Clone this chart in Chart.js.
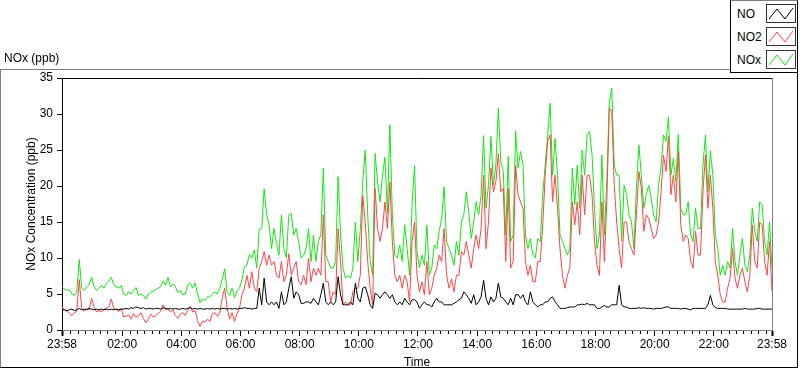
<!DOCTYPE html>
<html><head><meta charset="utf-8">
<script src="https://cdn.jsdelivr.net/npm/chart.js@4.4.1/dist/chart.umd.min.js"></script>
<style>
html,body{margin:0;padding:0;background:#fff;}
#wrap{position:relative;width:800px;height:369px;overflow:hidden;font-family:"Liberation Sans",Arial,sans-serif;font-size:12px;color:#000;}
#frame{position:absolute;left:0;top:69px;width:798px;height:299px;box-sizing:border-box;border-left:1px solid #808080;border-top:1px solid #808080;border-right:1px solid #000;border-bottom:1px solid #000;}
#c{position:absolute;left:0;top:0;}
#ttl{position:absolute;left:4px;top:51px;line-height:14px;}
#legend{position:absolute;left:730px;top:0;width:68px;height:73px;box-sizing:border-box;border:1px solid #000;border-top-color:#808080;background:#fff;}
.lt{position:absolute;left:6px;line-height:14px;}
.sw{position:absolute;left:35px;width:30px;height:19px;box-sizing:border-box;border:1px solid #333;background:#fff;}
.sw svg{position:absolute;left:0;top:0;}
</style></head><body>
<div id="wrap">
  <div id="frame"></div>
  <canvas id="c" width="800" height="369"></canvas>
  <div id="ttl">NOx (ppb)</div>
  <div id="legend">
    <div class="lt" style="top:6px">NO</div>
    <div class="sw" style="top:3px"><svg width="28" height="17"><polyline points="2,14 10,4 18,14 26,3" fill="none" stroke="#000" stroke-width="1"/></svg></div>
    <div class="lt" style="top:29px">NO2</div>
    <div class="sw" style="top:26px"><svg width="28" height="17"><polyline points="2,14 10,4 18,14 26,3" fill="none" stroke="#ff4444" stroke-width="1"/></svg></div>
    <div class="lt" style="top:52px">NOx</div>
    <div class="sw" style="top:49px"><svg width="28" height="17"><polyline points="2,14 10,4 18,14 26,3" fill="none" stroke="#14e614" stroke-width="1"/></svg></div>
  </div>
</div>
<script>
// Time axis: minutes elapsed since 23:58, sampled every 5 minutes over 24 h
const START_CLOCK = 23 * 60 + 58;
const SPAN = 1440;
const times = Array.from({length: 289}, (_, i) => i * 5);

const noValues = [
2.8,2.8,2.7,2.8,2.9,2.7,2.8,3.0,2.8,2.9,
2.8,3.0,2.9,2.8,2.9,2.8,2.9,2.8,2.9,2.8,
2.9,2.8,2.9,2.8,2.9,2.9,3.0,2.9,3.1,3.0,
3.2,3.1,3.0,3.1,2.9,3.0,3.0,2.9,3.0,3.0,
2.9,3.1,3.0,2.9,3.0,2.9,3.0,2.9,2.9,3.0,
2.9,3.0,3.1,2.9,3.0,2.9,3.0,2.9,2.9,3.0,
2.9,3.0,2.9,3.0,2.9,3.0,3.0,2.9,3.0,2.9,
3.0,2.9,3.0,
3.0,3.1,3.0,3.0,2.9,3.0,3.0,5.8,3.5,7.2,
3.9,3.5,3.9,3.5,3.9,3.0,5.3,3.5,3.9,5.8,
7.4,4.4,5.3,4.9,3.7,3.7,3.9,3.9,3.7,4.4,
3.9,3.5,4.9,6.5,3.9,3.5,3.9,3.5,3.9,7.4,
4.9,3.5,3.5,3.5,3.9,3.5,6.5,4.4,3.9,5.8,
6.0,4.9,3.5,3.0,5.1,4.9,4.4,4.9,5.3,4.9,
4.4,4.9,3.9,3.5,3.9,3.5,4.4,3.9,3.5,
4.2,4.2,3.9,3.0,3.5,3.9,3.5,3.5,3.2,3.9,
4.4,3.9,3.9,3.5,3.5,3.5,3.5,3.7,3.9,4.2,
4.4,5.3,4.9,4.4,3.7,4.9,3.5,3.9,4.6,6.9,
4.4,3.5,4.6,3.9,4.4,6.5,4.6,4.4,3.9,3.5,
4.4,3.5,4.9,4.9,4.4,4.9,3.9,3.5,5.3,3.9,
3.5,3.2,3.5,3.5,3.9,3.9,4.4,4.6,3.9,3.5,
3.0,3.0,3.0,3.1,3.2,3.2,3.2,3.5,3.5,3.6,
3.5,3.7,
3.5,3.5,3.5,3.0,3.0,3.2,3.4,3.2,3.2,3.5,
3.5,3.5,6.2,3.5,3.2,3.2,3.0,3.0,3.0,3.0,
3.1,3.0,3.1,3.0,3.0,3.0,2.9,3.0,3.0,3.0,
3.1,3.2,3.2,3.0,3.0,3.0,3.0,2.9,3.0,3.0,
2.9,2.8,3.0,3.0,3.0,3.0,3.0,3.0,3.5,4.8,
3.5,3.1,3.0,3.0,3.0,3.0,2.9,2.9,2.9,2.9,
2.9,2.9,2.9,3.0,2.9,2.9,2.9,2.9,3.0,3.0,
2.9,2.9,2.9,2.9,2.9
];

const no2Values = [
3.2,2.8,2.6,2.3,2.0,2.4,2.6,7.0,3.0,2.6,
3.0,2.8,4.4,3.2,2.5,2.7,2.5,2.9,3.0,3.2,
4.3,3.0,2.8,2.6,3.0,1.8,1.9,2.1,1.5,2.3,
1.8,2.0,2.4,1.6,1.0,1.5,2.2,1.8,2.0,2.3,
2.6,3.5,2.8,3.0,2.5,2.8,2.0,1.6,2.2,2.4,
2.0,2.8,3.3,2.5,2.7,1.3,0.5,1.2,1.1,1.5,
1.2,2.3,2.4,1.9,2.4,4.5,5.8,3.0,1.5,2.4,
1.2,2.3,3.0,
4.9,5.8,7.6,5.8,8.1,5.8,5.3,8.6,9.5,10.9,
9.0,10.4,9.0,9.5,7.6,7.2,9.5,6.7,7.6,10.6,
7.6,8.6,9.5,6.7,6.3,7.6,6.3,10.0,6.7,8.6,
7.6,8.6,7.6,16.0,6.7,6.7,3.9,5.3,4.9,14.1,
9.5,3.5,3.9,3.5,3.5,5.3,5.8,5.8,7.6,18.7,
15.0,9.5,5.8,3.5,19.7,14.1,12.3,14.1,17.8,14.1,
20.6,12.3,7.6,6.7,7.6,5.8,7.6,6.7,3.9,
12.3,15.0,7.6,5.3,6.7,4.9,9.5,4.9,5.8,7.6,
8.6,10.4,9.5,14.1,7.6,5.8,7.1,5.3,7.6,7.6,
10.9,10.4,12.3,10.4,8.6,11.3,13.2,11.3,14.1,21.5,
11.3,15.0,22.5,19.2,20.6,24.5,19.2,19.7,9.5,19.7,
8.6,9.5,22.9,18.8,17.8,16.9,9.5,7.6,9.0,6.7,
6.7,9.5,9.5,14.6,21.5,26.2,27.1,17.8,21.5,16.9,
11.3,7.6,5.8,7.6,8.6,17.8,14.6,17.8,13.2,21.5,
16.0,21.5,
21.5,18.8,12.3,9.0,7.6,17.8,9.5,17.8,30.8,30.4,
20.1,15.0,11.3,8.6,15.0,15.0,12.3,11.3,10.4,16.0,
22.0,19.7,13.7,16.0,15.5,14.1,12.7,13.2,15.0,19.2,
24.3,22.0,26.9,18.8,21.5,17.8,24.8,14.6,12.3,13.2,
12.7,9.5,8.6,13.7,10.4,10.4,19.2,24.3,16.9,21.5,
16.9,9.5,7.6,4.9,3.9,3.9,5.8,7.2,11.3,7.2,
5.8,7.6,8.6,6.7,5.3,7.6,14.6,9.5,8.6,15.0,
14.6,9.5,7.6,12.3,5.3
];

const noxValues = [
6.0,5.7,5.5,5.6,5.0,4.8,5.3,9.8,5.8,5.5,
6.0,6.3,7.3,6.0,5.5,5.8,6.2,5.8,6.5,6.8,
7.3,6.3,6.0,5.8,6.2,5.0,4.8,5.3,5.0,5.5,
5.9,4.8,5.0,4.8,4.3,5.0,5.3,5.4,5.6,5.8,
6.0,6.8,6.2,7.3,6.0,6.4,6.0,5.2,5.5,4.9,
5.0,6.3,6.5,5.8,6.5,5.0,3.8,4.3,4.1,4.6,
4.6,5.0,5.3,5.0,5.8,7.0,8.5,5.2,4.8,5.8,
4.5,5.4,5.8,
7.0,8.8,9.0,10.5,10.0,11.1,8.6,14.0,14.1,19.6,
16.0,14.6,11.3,14.1,12.0,10.4,16.0,11.3,10.0,16.0,
16.2,13.2,14.1,12.3,10.0,10.4,11.3,14.1,9.5,13.2,
9.5,12.3,13.2,22.5,10.4,9.5,8.6,8.6,9.5,21.3,
13.2,8.6,7.2,7.6,7.2,8.6,15.0,9.5,14.0,20.6,
25.0,16.0,9.5,7.6,24.5,20.6,17.8,21.5,24.0,16.2,
28.5,16.0,10.4,10.0,11.8,9.5,14.6,11.3,7.6,
17.4,22.8,10.9,8.6,10.4,9.0,14.6,7.6,8.6,11.8,
11.3,13.7,15.5,19.9,12.3,11.3,10.4,9.0,12.3,10.4,
15.0,16.0,19.2,16.4,12.7,15.0,17.8,16.0,18.8,27.0,
16.9,20.1,26.9,20.1,22.9,30.8,23.4,22.0,13.2,24.1,
12.3,13.2,27.6,22.5,24.8,22.9,13.2,11.3,12.7,10.4,
10.0,12.7,12.3,18.8,22.9,27.1,31.5,21.5,26.6,21.5,
13.2,12.3,11.3,10.4,11.3,22.5,17.4,22.9,16.9,25.0,
21.5,27.1,
27.6,24.4,16.9,11.3,13.2,24.3,13.2,20.8,31.5,33.6,
22.9,21.5,21.5,12.3,20.1,18.8,16.0,15.0,11.3,19.7,
25.7,21.5,16.9,18.8,20.1,18.3,16.0,15.0,20.1,22.7,
27.1,26.2,29.6,21.5,23.8,20.6,27.2,16.9,16.0,16.0,
17.8,13.2,12.3,16.9,14.1,14.1,22.9,27.1,19.2,24.9,
21.5,13.2,11.3,7.6,9.0,7.6,9.5,8.6,14.1,9.5,
7.6,10.4,12.7,9.0,8.1,10.4,16.9,13.7,12.3,17.8,
17.4,12.3,10.4,15.0,8.6
];

const seriesNames = ['NO', 'NO2', 'NOx'];
const seriesColors = ['#000000', '#ff4444', '#14e614'];
const yTicks = [0, 5, 10, 15, 20, 25, 30, 35];

function clockLabel(t) {
  const m = (START_CLOCK + t) % 1440;
  const h = Math.floor(m / 60), mm = m % 60;
  return String(h).padStart(2, '0') + ':' + String(mm).padStart(2, '0');
}
function isMajor(t) {
  if (t === 0 || t === SPAN) return true;
  return ((START_CLOCK + t) % 1440) % 120 === 0;
}
function pts(vals) { return times.map((t, i) => ({x: t, y: vals[i]})); }

const decor = {
  id: 'decor',
  afterDraw(chart) {
    const {ctx, chartArea: a, scales: {x}} = chart;
    ctx.save();
    ctx.lineWidth = 1;
    ctx.strokeStyle = '#000';
    ctx.beginPath();
    ctx.moveTo(a.left, Math.round(a.top) + 0.5);
    ctx.lineTo(a.right + 1, Math.round(a.top) + 0.5);
    ctx.stroke();
    ctx.strokeStyle = '#808080';
    ctx.beginPath();
    ctx.moveTo(Math.round(a.right) + 0.5, a.top);
    ctx.lineTo(Math.round(a.right) + 0.5, a.bottom);
    ctx.stroke();
    ctx.strokeStyle = '#000';
    ctx.beginPath();
    x.ticks.forEach(tk => {
      if (!isMajor(tk.value)) {
        const px = Math.round(x.getPixelForValue(tk.value)) + 0.5;
        ctx.moveTo(px, a.bottom + 1);
        ctx.lineTo(px, a.bottom + 4);
      }
    });
    ctx.stroke();
    ctx.restore();
  }
};

const FONT = {family: '"Liberation Sans", Arial, sans-serif', size: 12};

new Chart(document.getElementById('c'), {
  type: 'line',
  data: {
    datasets: [
      {label: seriesNames[0], data: pts(noValues), borderColor: seriesColors[0]},
      {label: seriesNames[1], data: pts(no2Values), borderColor: seriesColors[1]},
      {label: seriesNames[2], data: pts(noxValues), borderColor: seriesColors[2]}
    ]
  },
  options: {
    responsive: false,
    animation: false,
    events: [],
    elements: {line: {borderWidth: 1, tension: 0}, point: {radius: 0}},
    layout: {padding: {left: 0, right: 28, top: 78, bottom: 0}},
    plugins: {legend: {display: false}, tooltip: {enabled: false}},
    scales: {
      x: {
        type: 'linear', min: 0, max: SPAN,
        afterBuildTicks(scale) {
          const arr = [{value: 0}];
          for (let v = 17; v < SPAN; v += 15) arr.push({value: v});
          arr.push({value: SPAN});
          scale.ticks = arr;
        },
        afterFit(scale) { scale.height = 39; },
        ticks: {
          autoSkip: false, maxRotation: 0, padding: 1, color: '#000', font: FONT,
          callback: v => isMajor(v) ? clockLabel(v) : ''
        },
        grid: {
          display: true, drawOnChartArea: false, drawTicks: true, tickLength: 6,
          tickColor: c => isMajor(c.tick.value) ? '#000' : 'rgba(0,0,0,0)',
          tickWidth: c => (c.tick.value === 0 || c.tick.value === SPAN) ? 2 : 1
        },
        border: {display: true, color: '#808080', width: 1},
        title: {display: true, text: 'Time', color: '#000', font: FONT, padding: {top: 0, bottom: -1}}
      },
      y: {
        min: 0, max: 35,
        afterBuildTicks(scale) { scale.ticks = yTicks.map(v => ({value: v})); },
        afterFit(scale) { scale.width = 62; },
        ticks: {padding: 4, color: '#000', font: FONT},
        grid: {display: true, drawOnChartArea: false, drawTicks: true, tickLength: 5, tickColor: '#000'},
        border: {display: true, color: '#000', width: 1},
        title: {display: true, text: 'NOx Concentration (ppb)', color: '#000', font: FONT, padding: {top: 24, bottom: 0}}
      }
    }
  },
  plugins: [decor]
});
</script>
</body></html>
